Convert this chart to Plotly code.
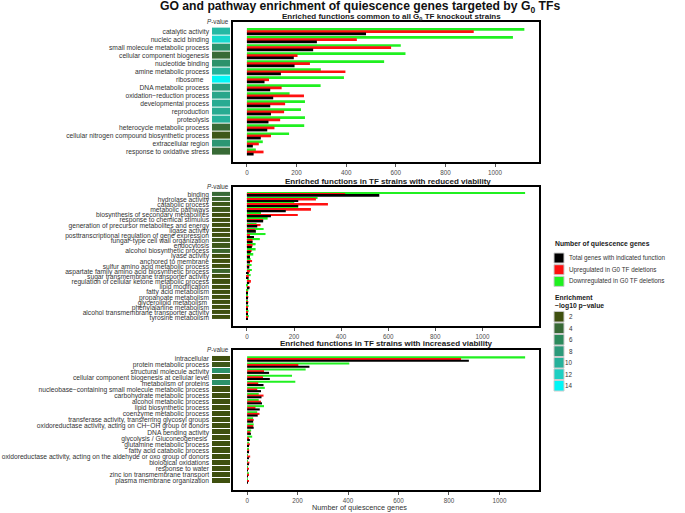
import plotly.graph_objects as go
from plotly.colors import sample_colorscale

W, H = 685, 513
FONT = "Liberation Sans, Arial, sans-serif"

# ---------------- data ----------------
p1_labels = ["catalytic activity", "nucleic acid binding", "small molecule metabolic process",
             "cellular component biogenesis", "nucleotide binding", "amine metabolic process",
             "ribosome\u00a0\u00a0\u00a0", "DNA metabolic process", "oxidation\u2212reduction process",
             "developmental process", "reproduction", "proteolysis", "heterocycle metabolic process",
             "cellular nitrogen compound biosynthetic process", "extracellular region",
             "response to oxidative stress"]
p1_down = [1118, 1072, 620, 639, 553, 298, 391, 297, 172, 234, 218, 234, 231, 170, 64, 36]
p1_up = [914, 443, 581, 204, 254, 397, 89, 140, 230, 154, 150, 134, 111, 97, 48, 67]
p1_total = [480, 282, 267, 189, 192, 137, 71, 94, 106, 94, 97, 87, 82, 56, 24, 27]
p1_logp = [10.5, 12.5, 7, 4, 7, 10, 14, 8, 9, 9.5, 9.5, 10, 4, 2.5, 7.5, 4]

p2_labels = ["binding", "hydrolase activity", "catabolic process", "metabolic pathways",
             "biosynthesis of secondary metabolites", "response to chemical stimulus",
             "generation of precursor metabolites and energy", "ligase activity",
             "posttranscriptional regulation of gene expression", "fungal\u2212type cell wall organization",
             "endocytosis", "alcohol biosynthetic process", "lyase activity", "anchored to membrane",
             "sulfur amino acid metabolic process", "aspartate family amino acid biosynthetic process",
             "sugar transmembrane transporter activity", "regulation of cellular ketone metabolic process",
             "lipid modification", "fatty acid metabolism", "propanoate metabolism",
             "glycerolipid metabolism\u00a0", "phenylalanine metabolism",
             "alcohol transmembrane transporter activity", "tyrosine metabolism"]
p2_down = [1181, 300, 201, 218, 60, 88, 41, 71, 79, 55, 37, 37, 27, 16, 20, 21, 16, 10, 4, 6, 4, 4, 7, 7, 8]
p2_up = [417, 293, 344, 272, 216, 69, 58, 34, 13, 24, 24, 20, 13, 22, 10, 13, 8, 17, 11, 4, 6, 6, 4, 4, 3]
p2_total = [562, 218, 218, 165, 102, 69, 44, 38, 30, 24, 21, 16, 13, 13, 10, 8, 7, 10, 11, 4, 3, 3, 3, 3, 1]
p2_logp = [4, 3.5, 2.5, 2.5, 2, 2, 2, 2, 2, 2.5, 2.5, 3.5, 2, 2, 2, 3.5, 2, 2, 2, 2, 2, 2, 2, 2, 2]

p3_labels = ["intracellular", "protein metabolic process", "structural molecule activity",
             "cellular component biogenesis at cellular level", "metabolism of proteins",
             "nucleobase\u2212containing small molecule metabolic process", "carbohydrate metabolic process",
             "alcohol metabolic process", "lipid biosynthetic process", "coenzyme metabolic process",
             "transferase activity, transferring glycosyl groups",
             "oxidoreductase activity, acting on CH\u2212OH group of donors", "DNA bending activity",
             "glycolysis / Gluconeogenesis\u00a0", "glutamine metabolic process", "fatty acid catabolic process",
             "oxidoreductase activity, acting on the aldehyde or oxo group of donors",
             "biological oxidations", "response to water", "zinc ion transmembrane transport",
             "plasma membrane organization"]
p3_down = [1102, 405, 232, 178, 191, 70, 46, 46, 67, 40, 24, 26, 16, 20, 8, 4, 3, 3, 3, 4, 2]
p3_up = [848, 203, 67, 63, 44, 40, 65, 55, 33, 49, 26, 24, 13, 7, 11, 8, 12, 9, 7, 4, 4]
p3_total = [879, 247, 87, 90, 65, 55, 57, 59, 50, 42, 24, 26, 15, 11, 7, 7, 7, 5, 3, 3, 1]
p3_logp = [2, 2.5, 7, 2, 7, 2, 2, 2, 2, 2, 2, 2, 2, 2, 2, 2, 2, 2, 2, 2, 2]

x_ticks = [0, 200, 400, 600, 800, 1000]
series_names = ["Total genes with indicated function", "Upregulated in G0 TF deletions",
                "Downregulated in G0 TF deletions"]
enrich_levels = [2, 4, 6, 8, 10, 12, 14]

main_title = "GO and pathway enrichment of quiescence genes targeted by G<sub>0</sub> TFs"
panel_titles = ["Enriched functions common to all G<sub>0</sub> TF knockout strains",
                "Enriched functions in TF strains with reduced viability",
                "Enriched functions in TF strains with increased viability"]

# ---------------- styling ----------------
C_TOTAL, C_UP, C_DOWN = "#000000", "#ff1010", "#20f020"
colorscale = [[0.0, "#3f500f"], [1/6, "#386a36"], [2/6, "#2c8a5c"], [3/6, "#2c9a7a"],
              [4/6, "#26b19a"], [5/6, "#1dcfc2"], [1.0, "#00f6f6"]]
ZMIN, ZMAX = 2, 14
LABEL_SIZE = 6.7


def fx(px):
    return px / W


def fy(py):
    return 1 - py / H


panels = [
    dict(labels=p1_labels, down=p1_down, up=p1_up, total=p1_total, logp=p1_logp,
         xr=[-56, 1177], top=22, bottom=162, pt=1.2, pb=1.25, tcx=392, tcy=16.5),
    dict(labels=p2_labels, down=p2_down, up=p2_up, total=p2_total, logp=p2_logp,
         xr=[-59, 1240], top=187, bottom=326, pt=1.45, pb=1.6, tcx=388, tcy=181),
    dict(labels=p3_labels, down=p3_down, up=p3_up, total=p3_total, logp=p3_logp,
         xr=[-56, 1157], top=350, bottom=490, pt=1.48, pb=1.48, tcx=386, tcy=343),
]

fig = go.Figure()
layout = dict(width=W, height=H, margin=dict(l=0, r=0, t=0, b=0, autoexpand=False),
              paper_bgcolor="white", plot_bgcolor="white", barmode="overlay",
              showlegend=False, font=dict(family=FONT, color="#333333"))
annotations = []
shapes = []

HM_X = [212, 230]
BAR_X = [233, 539]

for i, p in enumerate(panels):
    hx = 2 * i + 1
    bx = 2 * i + 2
    n = len(p["labels"])
    ydom = [fy(p["bottom"]), fy(p["top"])]
    yrange = [n - 1 + p["pb"], -p["pt"]]
    hs = "" if hx == 1 else str(hx)
    bs = str(bx)
    # heatmap column of enrichment p-values
    fig.add_trace(go.Heatmap(z=[[v] for v in p["logp"]], x=["P"], y=p["labels"],
                             colorscale=colorscale, zmin=ZMIN, zmax=ZMAX, showscale=False,
                             ygap=1, xgap=0, hoverinfo="skip",
                             xaxis="x" + hs, yaxis="y" + hs))
    # bars: down (green, top), up (red, middle), total (black, bottom)
    for vals, col, off in [(p["down"], C_DOWN, -0.44), (p["up"], C_UP, -0.17), (p["total"], C_TOTAL, 0.10)]:
        fig.add_trace(go.Bar(x=vals, y=p["labels"], orientation="h",
                             marker=dict(color=col, line=dict(width=0)),
                             width=0.34, offset=off, xaxis="x" + bs, yaxis="y" + bs))
    layout["xaxis" + hs] = dict(domain=[fx(HM_X[0]), fx(HM_X[1])], range=[-0.5, 0.5],
                                showticklabels=False, ticks="", showgrid=False, zeroline=False,
                                showline=False, automargin=False, anchor="y" + hs)
    layout["yaxis" + hs] = dict(domain=ydom, type="category", categoryarray=p["labels"],
                                tickmode="array", tickvals=p["labels"],
                                range=yrange, showgrid=False, zeroline=False, showline=False,
                                ticks="", ticklabelstandoff=2, automargin=False,
                                tickfont=dict(size=LABEL_SIZE, color="#333333", family=FONT),
                                anchor="x" + hs)
    layout["xaxis" + bs] = dict(domain=[fx(BAR_X[0]), fx(BAR_X[1])], range=p["xr"],
                                tickvals=x_ticks, ticks="outside", ticklen=3, tickcolor="#555555",
                                tickfont=dict(size=6.3, color="#4d4d4d", family=FONT),
                                showgrid=False, zeroline=False, showline=True, mirror=True,
                                linewidth=2, linecolor="black", automargin=False, anchor="y" + bs)
    layout["yaxis" + bs] = dict(domain=ydom, type="category", categoryarray=p["labels"],
                                range=yrange, showticklabels=False, ticks="", showgrid=False,
                                zeroline=False, showline=True, mirror=True, linewidth=2,
                                linecolor="black", automargin=False, anchor="x" + bs)
    annotations.append(dict(text="<b>" + panel_titles[i] + "</b>", x=fx(p["tcx"]), y=fy(p["tcy"]),
                            xref="paper", yref="paper", xanchor="center", yanchor="middle",
                            showarrow=False, font=dict(size=8, color="#1a1a1a", family=FONT)))
    annotations.append(dict(text="<i>P</i>-value", x=fx(231), y=fy(p["top"] - 1),
                            xref="paper", yref="paper", xanchor="right", yanchor="middle",
                            showarrow=False, font=dict(size=6.3, color="#333333", family=FONT)))

annotations.append(dict(text="<b>" + main_title + "</b>", x=fx(360), y=fy(7),
                        xref="paper", yref="paper", xanchor="center", yanchor="middle",
                        showarrow=False, font=dict(size=12.2, color="#111111", family=FONT)))
annotations.append(dict(text="Number of quiescence genes", x=fx(359), y=fy(507),
                        xref="paper", yref="paper", xanchor="center", yanchor="middle",
                        showarrow=False, font=dict(size=7.3, color="#333333", family=FONT)))

# legend: series
LX0, LX1 = 554, 564
annotations.append(dict(text="<b>Number of quiescence genes</b>", x=fx(553), y=fy(244),
                        xref="paper", yref="paper", xanchor="left", yanchor="middle",
                        showarrow=False, font=dict(size=6.8, color="#1a1a1a", family=FONT)))
for k, (name, col) in enumerate(zip(series_names, [C_TOTAL, C_UP, C_DOWN])):
    yc = 258 + 11.7 * k
    shapes.append(dict(type="rect", xref="paper", yref="paper", x0=fx(LX0), x1=fx(LX1),
                       y0=fy(yc + 5), y1=fy(yc - 5), fillcolor=col, line=dict(color="#cccccc", width=1)))
    annotations.append(dict(text=name, x=fx(567), y=fy(yc), xref="paper", yref="paper",
                            xanchor="left", yanchor="middle", showarrow=False,
                            font=dict(size=6.3, color="#333333", family=FONT)))

# legend: enrichment
annotations.append(dict(text="<b>Enrichment</b>", x=fx(553), y=fy(297), xref="paper", yref="paper",
                        xanchor="left", yanchor="middle", showarrow=False,
                        font=dict(size=6.8, color="#1a1a1a", family=FONT)))
annotations.append(dict(text="<b>\u2212log10 p\u2212value</b>", x=fx(553), y=fy(305.5), xref="paper",
                        yref="paper", xanchor="left", yanchor="middle", showarrow=False,
                        font=dict(size=6.8, color="#1a1a1a", family=FONT)))
lev_cols = sample_colorscale(colorscale, [(v - ZMIN) / (ZMAX - ZMIN) for v in enrich_levels])
for k, (lev, col) in enumerate(zip(enrich_levels, lev_cols)):
    yc = 316.7 + 11.5 * k
    shapes.append(dict(type="rect", xref="paper", yref="paper", x0=fx(LX0), x1=fx(LX1),
                       y0=fy(yc + 5.3), y1=fy(yc - 5.3), fillcolor=col, line=dict(color="#cccccc", width=1)))
    annotations.append(dict(text=str(lev), x=fx(575), y=fy(yc), xref="paper", yref="paper",
                            xanchor="right", yanchor="middle", showarrow=False,
                            font=dict(size=6.3, color="#333333", family=FONT)))

layout["annotations"] = annotations
layout["shapes"] = shapes
fig.update_layout(**layout)
fig.write_html("out.html", config={"displayModeBar": False},
               post_script="document.body.style.margin='0';document.body.style.padding='0';")
